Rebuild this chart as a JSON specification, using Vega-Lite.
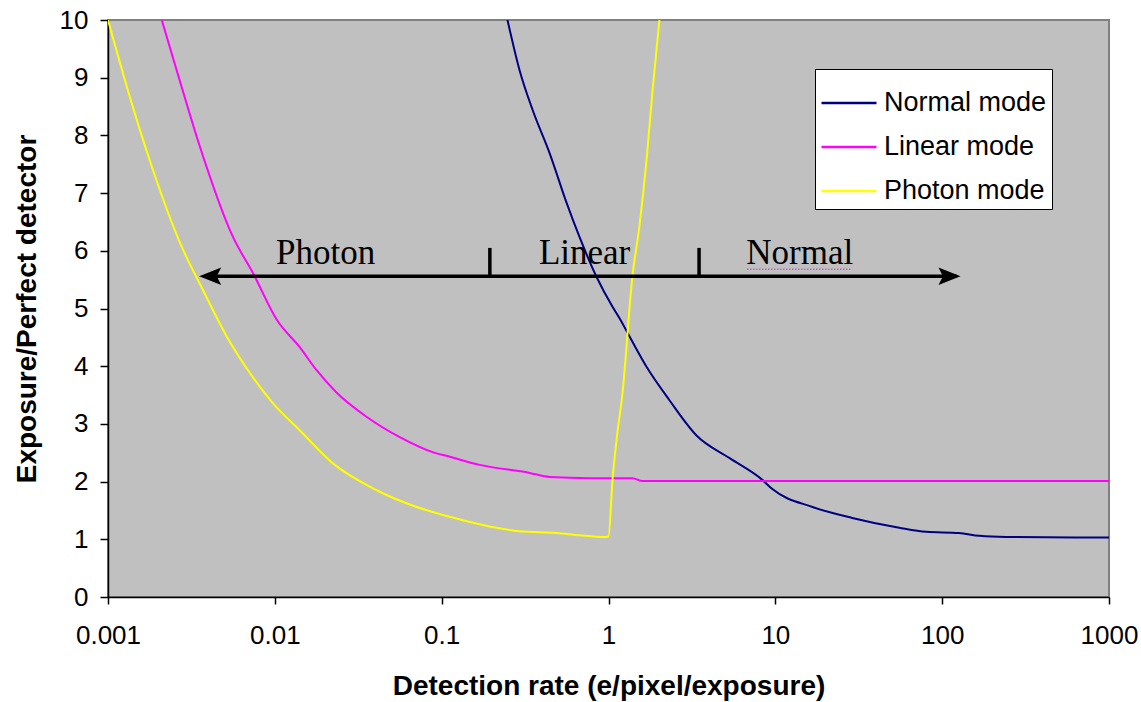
{
  "$schema": "https://vega.github.io/schema/vega-lite/v6.json",
  "width": 1001,
  "height": 577,
  "autosize": "none",
  "padding": {"left": 108, "top": 20, "right": 32, "bottom": 105},
  "background": "white",
  "config": {
    "view": {"fill": "#C0C0C0", "stroke": "#808080", "strokeWidth": 2},
    "font": "Liberation Sans",
    "axis": {
      "domainColor": "black",
      "domainWidth": 1.5,
      "tickColor": "black",
      "tickWidth": 1.5,
      "grid": false,
      "labelFont": "Liberation Sans",
      "labelFontSize": 26,
      "labelColor": "black",
      "titleFont": "Liberation Sans",
      "titleFontSize": 28,
      "titleFontWeight": "bold",
      "titleColor": "black"
    }
  },
  "datasets": {
    "curves": [
      {"mode": "Normal mode", "rate": 0.248, "ratio": 10},
      {"mode": "Normal mode", "rate": 0.293, "ratio": 9.13},
      {"mode": "Normal mode", "rate": 0.351, "ratio": 8.44},
      {"mode": "Normal mode", "rate": 0.444, "ratio": 7.69},
      {"mode": "Normal mode", "rate": 0.561, "ratio": 6.83},
      {"mode": "Normal mode", "rate": 0.67, "ratio": 6.24},
      {"mode": "Normal mode", "rate": 0.847, "ratio": 5.55},
      {"mode": "Normal mode", "rate": 1.057, "ratio": 5.03},
      {"mode": "Normal mode", "rate": 1.16, "ratio": 4.84},
      {"mode": "Normal mode", "rate": 1.34, "ratio": 4.51},
      {"mode": "Normal mode", "rate": 1.69, "ratio": 3.99},
      {"mode": "Normal mode", "rate": 2.32, "ratio": 3.41},
      {"mode": "Normal mode", "rate": 3.37, "ratio": 2.8},
      {"mode": "Normal mode", "rate": 5.3, "ratio": 2.41},
      {"mode": "Normal mode", "rate": 8.36, "ratio": 2.03},
      {"mode": "Normal mode", "rate": 9.6, "ratio": 1.87},
      {"mode": "Normal mode", "rate": 16.7, "ratio": 1.56},
      {"mode": "Normal mode", "rate": 28.9, "ratio": 1.37},
      {"mode": "Normal mode", "rate": 55.3, "ratio": 1.2},
      {"mode": "Normal mode", "rate": 80.2, "ratio": 1.13},
      {"mode": "Normal mode", "rate": 126, "ratio": 1.11},
      {"mode": "Normal mode", "rate": 167, "ratio": 1.06},
      {"mode": "Normal mode", "rate": 242, "ratio": 1.04},
      {"mode": "Normal mode", "rate": 1000, "ratio": 1.03},

      {"mode": "Linear mode", "rate": 0.0021, "ratio": 10},
      {"mode": "Linear mode", "rate": 0.00258, "ratio": 9.13},
      {"mode": "Linear mode", "rate": 0.00356, "ratio": 7.8},
      {"mode": "Linear mode", "rate": 0.00561, "ratio": 6.24},
      {"mode": "Linear mode", "rate": 0.00738, "ratio": 5.62},
      {"mode": "Linear mode", "rate": 0.0103, "ratio": 4.8},
      {"mode": "Linear mode", "rate": 0.0141, "ratio": 4.33},
      {"mode": "Linear mode", "rate": 0.0178, "ratio": 3.93},
      {"mode": "Linear mode", "rate": 0.0235, "ratio": 3.54},
      {"mode": "Linear mode", "rate": 0.0356, "ratio": 3.12},
      {"mode": "Linear mode", "rate": 0.0561, "ratio": 2.77},
      {"mode": "Linear mode", "rate": 0.0883, "ratio": 2.51},
      {"mode": "Linear mode", "rate": 0.112, "ratio": 2.43},
      {"mode": "Linear mode", "rate": 0.169, "ratio": 2.29},
      {"mode": "Linear mode", "rate": 0.337, "ratio": 2.15},
      {"mode": "Linear mode", "rate": 0.444, "ratio": 2.08},
      {"mode": "Linear mode", "rate": 0.769, "ratio": 2.06},
      {"mode": "Linear mode", "rate": 1.39, "ratio": 2.06},
      {"mode": "Linear mode", "rate": 1.6, "ratio": 2.01},
      {"mode": "Linear mode", "rate": 1000, "ratio": 2.01},

      {"mode": "Photon mode", "rate": 0.001, "ratio": 10},
      {"mode": "Photon mode", "rate": 0.00141, "ratio": 8.49},
      {"mode": "Photon mode", "rate": 0.00186, "ratio": 7.4},
      {"mode": "Photon mode", "rate": 0.0027, "ratio": 6.14},
      {"mode": "Photon mode", "rate": 0.00371, "ratio": 5.32},
      {"mode": "Photon mode", "rate": 0.00516, "ratio": 4.51},
      {"mode": "Photon mode", "rate": 0.00738, "ratio": 3.81},
      {"mode": "Photon mode", "rate": 0.00973, "ratio": 3.36},
      {"mode": "Photon mode", "rate": 0.0141, "ratio": 2.89},
      {"mode": "Photon mode", "rate": 0.0222, "ratio": 2.32},
      {"mode": "Photon mode", "rate": 0.0408, "ratio": 1.85},
      {"mode": "Photon mode", "rate": 0.0708, "ratio": 1.56},
      {"mode": "Photon mode", "rate": 0.1117, "ratio": 1.39},
      {"mode": "Photon mode", "rate": 0.134, "ratio": 1.33},
      {"mode": "Photon mode", "rate": 0.213, "ratio": 1.2},
      {"mode": "Photon mode", "rate": 0.293, "ratio": 1.14},
      {"mode": "Photon mode", "rate": 0.489, "ratio": 1.11},
      {"mode": "Photon mode", "rate": 0.67, "ratio": 1.07},
      {"mode": "Photon mode", "rate": 0.946, "ratio": 1.04},
      {"mode": "Photon mode", "rate": 1.0, "ratio": 1.05},
      {"mode": "Photon mode", "rate": 1.057, "ratio": 2.03},
      {"mode": "Photon mode", "rate": 1.13, "ratio": 2.84},
      {"mode": "Photon mode", "rate": 1.21, "ratio": 3.5},
      {"mode": "Photon mode", "rate": 1.39, "ratio": 5.55},
      {"mode": "Photon mode", "rate": 1.53, "ratio": 6.41},
      {"mode": "Photon mode", "rate": 1.69, "ratio": 7.57},
      {"mode": "Photon mode", "rate": 1.83, "ratio": 8.73},
      {"mode": "Photon mode", "rate": 2.02, "ratio": 10}
    ],
    "arrow": [{"rate": 0.0038, "rate2": 122, "ratio": 5.56}],
    "leftHead": [{"rate": 0.00352, "ratio": 5.56}],
    "rightHead": [{"rate": 128.8, "ratio": 5.56}],
    "dividers": [
      {"rate": 0.1945, "ratio": 5.56, "ratio2": 6.05},
      {"rate": 3.49, "ratio": 5.56, "ratio2": 6.05}
    ],
    "regimes": [
      {"rate": 0.02016, "ratio": 5.77, "label": "Photon"},
      {"rate": 0.719, "ratio": 5.77, "label": "Linear"},
      {"rate": 14.0, "ratio": 5.77, "label": "Normal"}
    ],
    "squiggle": [{"rate": 6.76, "rate2": 28.6, "ratio": 5.68}]
  },
  "layer": [
    {
      "data": {"name": "curves"},
      "mark": {"type": "line", "strokeWidth": 2, "clip": true, "interpolate": "monotone"},
      "encoding": {
        "x": {
          "field": "rate",
          "type": "quantitative",
          "scale": {"type": "log", "domain": [0.001, 1000]},
          "axis": {
            "title": "Detection rate (e/pixel/exposure)",
            "values": [0.001, 0.01, 0.1, 1, 10, 100, 1000],
            "format": "~g",
            "labelFlush": false,
            "tickSize": 7,
            "labelPadding": 18,
            "titlePadding": 24
          }
        },
        "y": {
          "field": "ratio",
          "type": "quantitative",
          "scale": {"domain": [0, 10]},
          "axis": {
            "title": "Exposure/Perfect detector",
            "values": [0, 1, 2, 3, 4, 5, 6, 7, 8, 9, 10],
            "format": "d",
            "tickSize": 8,
            "labelPadding": 12,
            "titlePadding": 18
          }
        },
        "color": {
          "field": "mode",
          "type": "nominal",
          "scale": {
            "domain": ["Normal mode", "Linear mode", "Photon mode"],
            "range": ["#000080", "#FF00FF", "#FFFF00"]
          },
          "legend": {
            "title": null,
            "orient": "none",
            "legendX": 707,
            "legendY": 49,
            "fillColor": "white",
            "strokeColor": "black",
            "padding": 5,
            "symbolType": "stroke",
            "symbolSize": 3025,
            "symbolStrokeWidth": 2.5,
            "labelFont": "Liberation Sans",
            "labelFontSize": 27,
            "labelColor": "black",
            "labelOffset": 6,
            "labelLimit": 400,
            "rowPadding": 2
          }
        }
      }
    },
    {
      "data": {"name": "arrow"},
      "mark": {"type": "rule", "strokeWidth": 3.5, "color": "black"},
      "encoding": {
        "x": {"field": "rate", "type": "quantitative"},
        "x2": {"field": "rate2"},
        "y": {"field": "ratio", "type": "quantitative"}
      }
    },
    {
      "data": {"name": "leftHead"},
      "mark": {"type": "point", "filled": true, "color": "black", "opacity": 1, "size": 484, "shape": "M 0 0 L 2 -0.8 L 1.6 0 L 2 0.8 Z"},
      "encoding": {
        "x": {"field": "rate", "type": "quantitative"},
        "y": {"field": "ratio", "type": "quantitative"}
      }
    },
    {
      "data": {"name": "rightHead"},
      "mark": {"type": "point", "filled": true, "color": "black", "opacity": 1, "size": 484, "shape": "M 0 0 L -2 -0.8 L -1.6 0 L -2 0.8 Z"},
      "encoding": {
        "x": {"field": "rate", "type": "quantitative"},
        "y": {"field": "ratio", "type": "quantitative"}
      }
    },
    {
      "data": {"name": "dividers"},
      "mark": {"type": "rule", "strokeWidth": 3.5, "color": "black"},
      "encoding": {
        "x": {"field": "rate", "type": "quantitative"},
        "y": {"field": "ratio", "type": "quantitative"},
        "y2": {"field": "ratio2"}
      }
    },
    {
      "data": {"name": "squiggle"},
      "mark": {"type": "rule", "strokeWidth": 1.5, "color": "#C060C0", "strokeDash": [1.5, 1.5]},
      "encoding": {
        "x": {"field": "rate", "type": "quantitative"},
        "x2": {"field": "rate2"},
        "y": {"field": "ratio", "type": "quantitative"}
      }
    },
    {
      "data": {"name": "regimes"},
      "mark": {"type": "text", "font": "Liberation Serif", "fontSize": 35, "color": "black", "align": "center", "baseline": "alphabetic"},
      "encoding": {
        "x": {"field": "rate", "type": "quantitative"},
        "y": {"field": "ratio", "type": "quantitative"},
        "text": {"field": "label", "type": "nominal"}
      }
    }
  ]
}
